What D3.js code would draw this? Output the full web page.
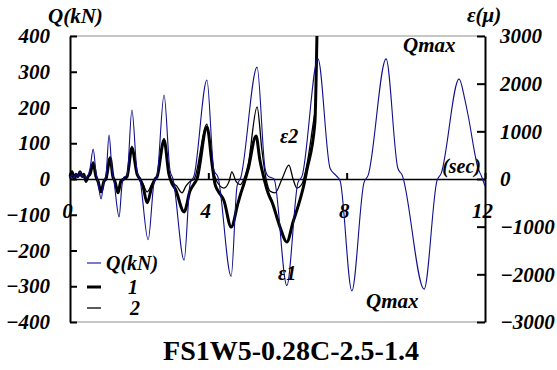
<!DOCTYPE html>
<html>
<head>
<meta charset="utf-8">
<script src="https://cdn.jsdelivr.net/npm/d3@7"></script>
<style>
  body { margin: 0; background: #fff; }
  text { font-family: "Liberation Serif", "Times New Roman", serif; }
</style>
</head>
<body>
<svg id="chart" width="557" height="370"></svg>
<script>
// Shear force Q (kN) over time (sec)
const qTime = [0, 0.06, 0.12, 0.17, 0.23, 0.29, 0.35, 0.40, 0.46, 0.52, 0.58, 0.67, 0.75, 0.81, 0.90, 0.98, 1.04, 1.13, 1.21, 1.27, 1.42, 1.50, 1.56, 1.65, 1.79, 1.94, 2.02, 2.26, 2.43, 2.52, 2.72, 2.89, 2.98, 3.30, 3.47, 3.59, 3.96, 4.16, 4.28, 4.66, 4.83, 4.94, 5.41, 5.64, 5.73, 5.90, 6.27, 6.59, 6.71, 7.17, 7.52, 7.69, 7.81, 8.15, 8.50, 8.62, 9.14, 9.48, 9.60, 10.24, 10.61, 10.73, 11.25, 11.42, 11.51, 11.80, 11.91, 12.0];
const qValues = [5, 12, 3, 15, 5, 20, 8, 10, 2, 10, 30, 84, 20, -10, -56, -5, 10, 123, 30, -5, -106, -20, 5, 10, 193, 20, 0, -170, -10, 10, 235, 25, 0, -227, -15, 10, 277, 25, 5, -272, -20, 5, 313, 30, 8, 0, -298, -10, 8, 336, 30, 10, -5, -313, -10, 10, 336, 30, 12, -308, -5, 15, 280, 221, 179, 30, 5, -20];

// Strain gauge 1 (thick)
const s1Time = [0, 0.06, 0.12, 0.17, 0.23, 0.29, 0.35, 0.40, 0.46, 0.52, 0.58, 0.67, 0.75, 0.81, 0.90, 0.98, 1.04, 1.16, 1.24, 1.30, 1.39, 1.47, 1.56, 1.65, 1.79, 1.94, 2.02, 2.11, 2.23, 2.37, 2.46, 2.52, 2.72, 2.86, 2.95, 3.04, 3.30, 3.47, 3.59, 3.67, 3.96, 4.11, 4.19, 4.28, 4.45, 4.66, 4.86, 4.94, 5.03, 5.15, 5.38, 5.49, 5.58, 5.73, 5.84, 6.07, 6.27, 6.45, 6.65, 6.77, 6.85, 7.08, 7.14];
const s1Values = [50, 150, 0, 100, 50, 150, 50, 100, -50, 50, 100, 335, 50, -50, -270, -50, 0, 440, 50, -50, -290, -50, 0, 50, 650, 100, 0, -150, -500, -150, 0, 50, 817, 100, -100, -200, -692, -250, -100, 0, 1090, 300, -100, -250, -450, -1006, -500, -300, -100, 200, 900, 400, 100, -300, -480, -1000, -1320, -900, -440, -100, 190, 1170, 3000];

// Strain gauge 2 (thin)
const s2Time = [0, 0.06, 0.12, 0.17, 0.23, 0.29, 0.35, 0.40, 0.46, 0.52, 0.58, 0.67, 0.75, 0.81, 0.90, 0.98, 1.04, 1.16, 1.24, 1.30, 1.39, 1.47, 1.56, 1.65, 1.79, 1.94, 2.02, 2.11, 2.23, 2.37, 2.46, 2.52, 2.72, 2.86, 2.95, 3.09, 3.24, 3.35, 3.47, 3.59, 3.96, 4.11, 4.19, 4.34, 4.45, 4.60, 4.68, 4.80, 4.92, 5.03, 5.15, 5.41, 5.55, 5.67, 5.78, 5.93, 6.13, 6.33, 6.45, 6.56, 6.71, 6.85, 7.08, 7.11];
const s2Values = [30, 120, 20, 80, 40, 120, 60, 80, -30, 60, 120, 360, 80, -30, -230, -30, 20, 470, 80, -30, -250, -30, 20, 80, 690, 120, 20, -100, -270, -100, 0, 60, 850, 120, -50, -150, -290, -150, -50, 0, 1150, 300, 50, -150, -190, -50, 150, -50, -120, 0, 300, 1510, 600, 0, -250, -290, 0, 290, 0, -190, -100, 300, 1380, 1500];

const qTicks = [-400, -300, -200, -100, 0, 100, 200, 300, 400];
const strainTicks = [-3000, -2000, -1000, 0, 1000, 2000, 3000];
const timeTicks = [0, 4, 8, 12];

const svg = d3.select("#chart");
const plotLeft = 70, plotRight = 485, plotTop = 36, plotBottom = 322;
const serif = '"Liberation Serif", "Times New Roman", serif';

const x = d3.scaleLinear().domain([0, 12]).range([plotLeft, plotRight]);
const yQ = d3.scaleLinear().domain([-400, 400]).range([plotBottom, plotTop]);
const yS = d3.scaleLinear().domain([-3000, 3000]).range([plotBottom, plotTop]);

const zip = (ts, vs) => ts.map((t, i) => ({ t, v: vs[i] }));

// top and bottom frame (grey)
svg.append("line").attr("x1", plotLeft).attr("x2", plotRight).attr("y1", plotTop).attr("y2", plotTop)
  .attr("stroke", "#b4b4b4").attr("stroke-width", 1.5);
svg.append("line").attr("x1", plotLeft).attr("x2", plotRight).attr("y1", plotBottom).attr("y2", plotBottom)
  .attr("stroke", "#b4b4b4").attr("stroke-width", 1.5);

// left axis (Q)
const leftAxis = svg.append("g")
  .attr("transform", `translate(${plotLeft},0)`)
  .call(d3.axisLeft(yQ).tickValues(qTicks).tickFormat(d3.format("d"))
    .tickSizeInner(-7).tickSizeOuter(0).tickPadding(20));

// right axis (strain)
const rightAxis = svg.append("g")
  .attr("transform", `translate(${plotRight},0)`)
  .call(d3.axisRight(yS).tickValues(strainTicks).tickFormat(d3.format("d"))
    .tickSizeInner(-8).tickSizeOuter(0).tickPadding(15));

// time axis on zero line
const timeAxis = svg.append("g")
  .attr("transform", `translate(0,${yQ(0)})`)
  .call(d3.axisBottom(x).tickValues(timeTicks).tickFormat(d3.format("d"))
    .tickSizeInner(-6).tickSizeOuter(0).tickPadding(24));

[leftAxis, rightAxis, timeAxis].forEach(g => {
  g.select(".domain").attr("stroke", "#000").attr("stroke-width", 2);
  g.selectAll(".tick line").attr("stroke", "#000").attr("stroke-width", 2);
  g.selectAll(".tick text")
    .style("font-family", serif)
    .style("font-size", "21px")
    .style("font-weight", "bold")
    .style("font-style", "italic")
    .attr("fill", "#000");
});
timeAxis.select(".domain").attr("stroke-width", 1.6);
timeAxis.selectAll(".tick text").attr("dx", -3);

// series
const lineQ = d3.line().x(d => x(d.t)).y(d => yQ(d.v)).curve(d3.curveMonotoneX);
const lineS = d3.line().x(d => x(d.t)).y(d => yS(d.v)).curve(d3.curveMonotoneX);

svg.append("path").datum(zip(s2Time, s2Values))
  .attr("fill", "none").attr("stroke", "#000").attr("stroke-width", 1.3)
  .attr("d", lineS);
svg.append("path").datum(zip(s1Time, s1Values))
  .attr("fill", "none").attr("stroke", "#000").attr("stroke-width", 3)
  .attr("stroke-linejoin", "round")
  .attr("d", lineS);
svg.append("path").datum(zip(qTime, qValues))
  .attr("fill", "none").attr("stroke", "#10108c").attr("stroke-width", 1.1)
  .attr("d", lineQ);

// labels
function label(txt, xPos, yPos, opts = {}) {
  return svg.append("text")
    .attr("x", xPos).attr("y", yPos)
    .style("font-family", serif)
    .style("font-size", (opts.size || 21) + "px")
    .style("font-weight", "bold")
    .style("font-style", opts.italic === false ? "normal" : "italic")
    .attr("text-anchor", opts.anchor || "start")
    .attr("fill", "#000")
    .text(txt);
}

label("Q(kN)", 48, 23);
label("ε(μ)", 467, 22);
label("(sec)", 481, 173, { size: 20, anchor: "end" });
label("Qmax", 403, 52);
label("Qmax", 366, 308);
label("ε2", 280, 143, { size: 20 });
label("ε1", 278, 280, { size: 20 });

// legend
const legend = [
  { name: "Q(kN)", color: "#10108c", width: 1.1, y: 263, tx: 106, anchor: "start" },
  { name: "1", color: "#000", width: 3, y: 287, tx: 133, anchor: "middle" },
  { name: "2", color: "#000", width: 1.3, y: 308, tx: 135, anchor: "middle" }
];
legend.forEach(d => {
  svg.append("line").attr("x1", 87).attr("x2", 101).attr("y1", d.y).attr("y2", d.y)
    .attr("stroke", d.color).attr("stroke-width", d.width);
  label(d.name, d.tx, d.y + 7, { size: 20, anchor: d.anchor });
});

// title
label("FS1W5-0.28C-2.5-1.4", 291, 360, { size: 28, italic: false, anchor: "middle" });
</script>
</body>
</html>
